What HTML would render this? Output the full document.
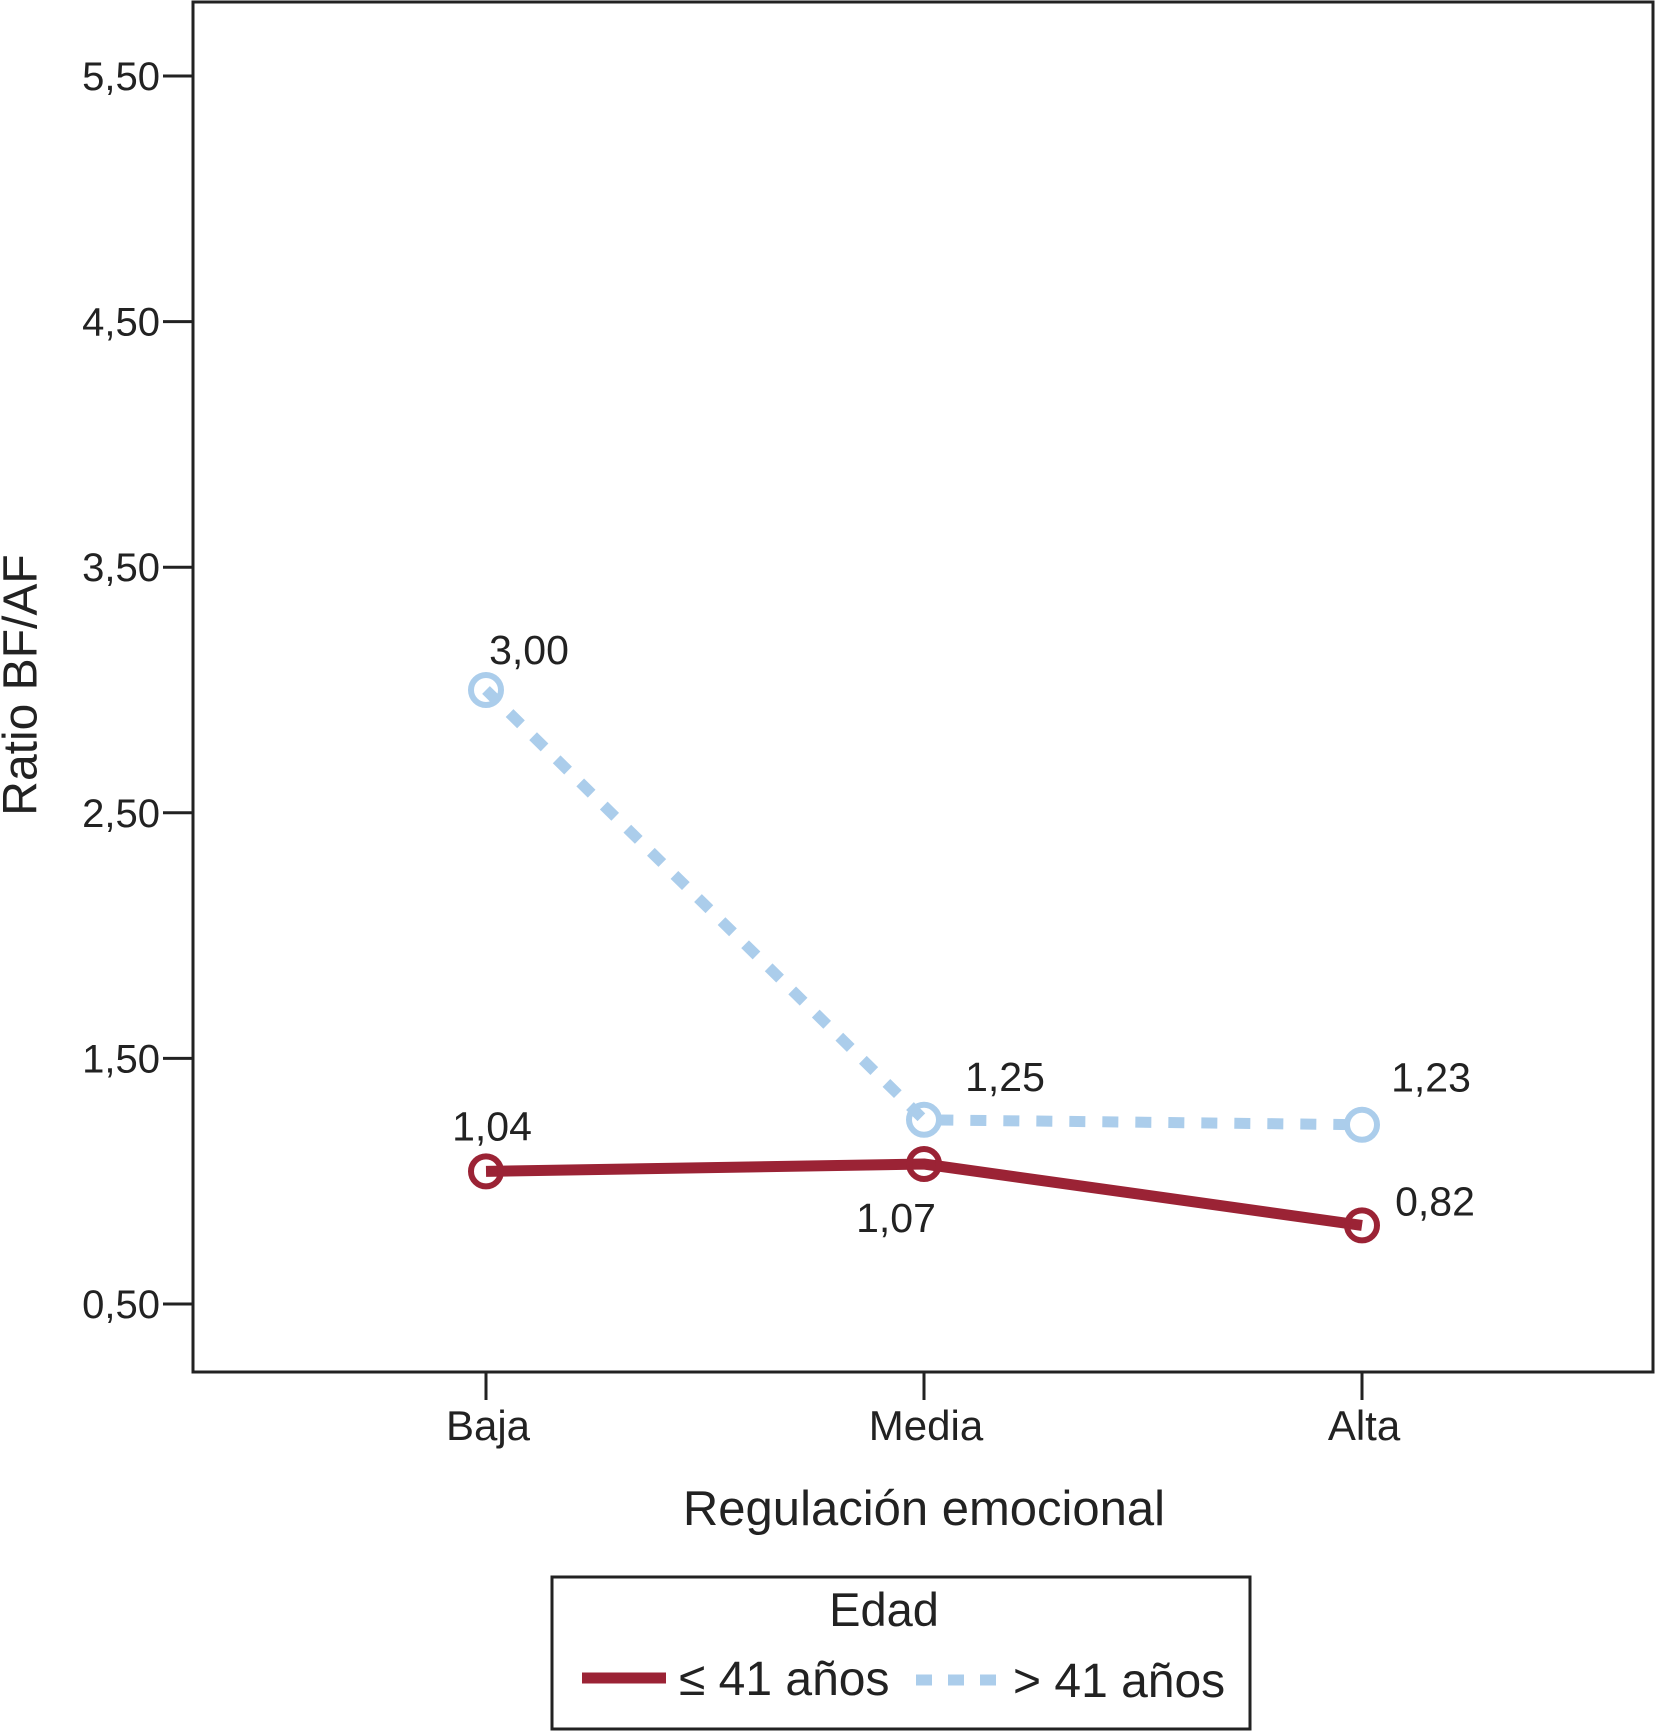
<!DOCTYPE html>
<html><head><meta charset="utf-8"><style>
html,body{margin:0;padding:0;background:#fff;}
svg{display:block;font-family:"Liberation Sans",Arial,sans-serif;}
</style></head><body>
<svg id="chart" width="1657" height="1731" viewBox="0 0 1657 1731">
<rect x="193" y="2" width="1460" height="1370" fill="none" stroke="#222" stroke-width="3"/>
<g id="yaxis"></g>
<g id="xaxis"></g>
<text x="24" y="685" font-size="48" text-anchor="middle" dominant-baseline="middle" transform="rotate(-90 24 685)" fill="#222">Ratio BF/AF</text>
<text x="924" y="1525" font-size="49" text-anchor="middle" fill="#222">Regulación emocional</text>
<g id="series"></g>
<g>
<rect x="552" y="1577" width="698" height="152" fill="none" stroke="#222" stroke-width="3"/>
<text x="884" y="1626" font-size="47" text-anchor="middle" fill="#222">Edad</text>
<line x1="582" y1="1678" x2="666" y2="1678" stroke="#9b2335" stroke-width="11"/>
<text x="679" y="1695" font-size="48" fill="#222">≤ 41 años</text>
<line x1="916" y1="1680" x2="1000" y2="1680" stroke="#abcdeb" stroke-width="11" stroke-dasharray="16,16"/>
<text x="1013" y="1697" font-size="48" fill="#222">&gt; 41 años</text>
</g>
</svg>
<script>
const categories = ["Baja", "Media", "Alta"];
const youngValues = [1.04, 1.07, 0.82];
const oldValues = [3.00, 1.25, 1.23];
const youngLabels = ["1,04", "1,07", "0,82"];
const oldLabels = ["3,00", "1,25", "1,23"];
const yTicks = [0.5, 1.5, 2.5, 3.5, 4.5, 5.5];
const yTickLabels = ["0,50", "1,50", "2,50", "3,50", "4,50", "5,50"];

const NS = "http://www.w3.org/2000/svg";
function y(v){ return 1304 - (v - 0.5) * 245.6; }
function x(i){ return 486 + i * 438; }
function mk(tag, attrs, parent){ const e=document.createElementNS(NS,tag); for(const k in attrs) e.setAttribute(k, attrs[k]); parent.appendChild(e); return e; }

const ya = document.getElementById('yaxis');
yTicks.forEach((t,i)=>{
  const l = mk('line',{x1:163,x2:193,y1:y(t),y2:y(t),stroke:'#222','stroke-width':3},ya);
  
  
  const tx = mk('text',{x:160,y:y(t)+14,'font-size':40,'text-anchor':'end',fill:'#222'},ya);
  tx.textContent = yTickLabels[i];
  
  
});
const xa = document.getElementById('xaxis');
categories.forEach((c,i)=>{
  const l = mk('line',{x1:x(i),x2:x(i),y1:1372,y2:1400,stroke:'#222','stroke-width':3},xa);
  
  
  const tx = mk('text',{x:x(i)+2,y:1440,'font-size':42,'text-anchor':'middle',fill:'#222'},xa);
  tx.textContent = c;
  
  
});

const sg = document.getElementById('series');
function drawSeries(vals, labels, color, dash, name, offs){
  const pts = vals.map((v,i)=>x(i)+','+y(v)).join(' ');
  const pl = mk('polyline',{points:pts,fill:'none',stroke:color,'stroke-width':11,'stroke-linejoin':'round'},sg);
  if(dash) pl.setAttribute('stroke-dasharray',dash);
  
  
  vals.forEach((v,i)=>{
    const c = mk('circle',{cx:x(i),cy:y(v),r:15,fill:'none',stroke:color,'stroke-width':6},sg);
    
    
    const t = mk('text',{x:x(i)+offs[i][0],y:y(v)+offs[i][1],'font-size':41,'text-anchor':'middle',fill:'#222'},sg);
    t.textContent = labels[i];
    
    
  });
}
drawSeries(oldValues, oldLabels, '#abcdeb', '16,17', 'older-series', [[43,-26],[81,-29],[69,-33]]);
drawSeries(youngValues, youngLabels, '#9b2335', null, 'younger-series', [[6,-31],[-28,68],[73,-10]]);
</script>
</body></html>
